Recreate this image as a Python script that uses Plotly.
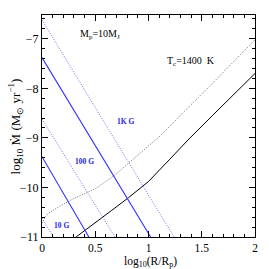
import plotly.graph_objects as go

# Black solid curve
black_x = [0.32, 0.5, 0.65, 0.81, 1.0, 1.2, 1.39, 1.6, 1.8, 2.0]
black_y = [-11.0, -10.72, -10.47, -10.21, -9.88, -9.43, -9.0, -8.55, -8.12, -7.7]

# Grey dotted curve
grey_x = [0.0, 0.03, 0.06, 0.15, 0.3, 0.5, 0.7, 0.9, 1.12, 1.32, 1.6, 2.0]
grey_y = [-10.72, -10.6, -10.52, -10.4, -10.22, -10.03, -9.72, -9.35, -8.94, -8.5, -7.9, -7.02]

# Blue field lines (solid and dotted)
b1k_solid_x = [0.0, 1.02]
b1k_solid_y = [-7.38, -11.0]
b100_solid_x = [0.0, 0.44]
b100_solid_y = [-9.38, -11.0]
b1k_dot_x = [0.0, 1.24]
b1k_dot_y = [-6.62, -11.0]
b100_dot_x = [0.0, 0.685]
b100_dot_y = [-8.62, -11.0]
b10_dot_x = [0.0, 0.106]
b10_dot_y = [-10.62, -11.0]

x_ticks = [0, 0.5, 1, 1.5, 2]
x_tick_labels = ["0", "0.5", "1", "1.5", "2"]
y_ticks = [-11, -10, -9, -8, -7]
y_tick_labels = ["\u221211", "\u221210", "\u22129", "\u22128", "\u22127"]

FONT = "Liberation Serif"
SOLID_BLUE = "rgb(50,50,255)"
DOT_BLUE = "rgb(110,110,255)"
DOT = "1px,1.5px"

fig = go.Figure()
fig.add_trace(go.Scatter(x=grey_x, y=grey_y, mode="lines",
                         line=dict(color="rgb(110,110,110)", width=1, dash=DOT)))
fig.add_trace(go.Scatter(x=black_x, y=black_y, mode="lines",
                         line=dict(color="black", width=1)))
for xs, ys in [(b1k_dot_x, b1k_dot_y), (b100_dot_x, b100_dot_y), (b10_dot_x, b10_dot_y)]:
    fig.add_trace(go.Scatter(x=xs, y=ys, mode="lines",
                             line=dict(color=DOT_BLUE, width=1, dash=DOT)))
for xs, ys in [(b1k_solid_x, b1k_solid_y), (b100_solid_x, b100_solid_y)]:
    fig.add_trace(go.Scatter(x=xs, y=ys, mode="lines",
                             line=dict(color=SOLID_BLUE, width=1.1)))

ann = [
    dict(x=0.545, y=-6.92, text="M<sub>p</sub>=10M<sub>J</sub>", font=dict(size=10, color="black", family=FONT)),
    dict(x=1.40, y=-7.46, text="T<sub>c</sub>=1400  K", font=dict(size=10, color="black", family=FONT)),
    dict(x=0.78, y=-8.67, text="<b>1K G</b>", font=dict(size=7.5, color="rgb(30,30,230)", family=FONT)),
    dict(x=0.40, y=-9.47, text="<b>100 G</b>", font=dict(size=7.5, color="rgb(30,30,230)", family=FONT)),
    dict(x=0.18, y=-10.77, text="<b>10 G</b>", font=dict(size=7.5, color="rgb(30,30,230)", family=FONT)),
]
for a in ann:
    a.update(xref="x", yref="y", showarrow=False)
# axis titles as paper-anchored annotations
ann.append(dict(xref="paper", yref="paper", x=0.51, y=-0.113, xanchor="center", yanchor="middle",
                showarrow=False, text="log<sub>10</sub>(R/R<sub>p</sub>)",
                font=dict(family=FONT, size=11.5, color="black")))
ann.append(dict(xref="paper", yref="paper", x=-0.125, y=0.5, xanchor="center", yanchor="middle",
                showarrow=False, textangle=-90,
                text="log<sub>10</sub> \u1E40 (M<sub>\u2299</sub> yr<sup>\u22121</sup>)",
                font=dict(family=FONT, size=13, color="black")))
fig.update_layout(annotations=ann)

axis_common = dict(
    showgrid=False, zeroline=False, showline=True, linecolor="black", linewidth=1,
    mirror="ticks", ticks="inside", ticklen=6, tickcolor="black", tickwidth=1,
    tickfont=dict(family=FONT, size=12, color="black"), automargin=False,
)
fig.update_xaxes(range=[0, 2], tickvals=x_ticks, ticktext=x_tick_labels,
                 minor=dict(dtick=0.1, ticks="inside", ticklen=3, tickcolor="black"),
                 **axis_common)
fig.update_xaxes(tickfont=dict(family=FONT, size=11.5, color="black"))
fig.update_yaxes(range=[-11, -6.52], tickvals=y_ticks, ticktext=y_tick_labels,
                 minor=dict(dtick=0.2, ticks="inside", ticklen=3, tickcolor="black"),
                 **axis_common)

fig.update_layout(width=269, height=269, margin=dict(l=42, r=14, t=15, b=32),
                  plot_bgcolor="white", paper_bgcolor="white", showlegend=False)
fig.write_html("out.html", config={"displayModeBar": False})

with open("out.html", "r", encoding="utf-8") as f:
    html = f.read()
html = html.replace("<head>", "<head><style>html,body{margin:0;padding:0;overflow:hidden;}</style>", 1)
with open("out.html", "w", encoding="utf-8") as f:
    f.write(html)
